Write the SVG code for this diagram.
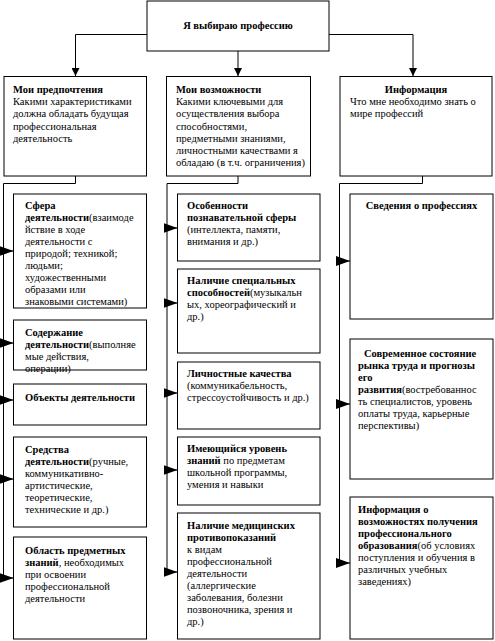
<svg xmlns="http://www.w3.org/2000/svg" width="495" height="641" viewBox="0 0 495 641">
<defs>
<style>
rect{fill:#fff;stroke:#000;stroke-width:1}
.c{fill:none;stroke:#000;stroke-width:1}
text{font-family:'Liberation Serif','Times New Roman',serif;font-size:10.5px;fill:#000}
.b{font-weight:bold}
.m{text-anchor:middle}
</style>
<marker id="ah" markerUnits="userSpaceOnUse" markerWidth="14" markerHeight="10" refX="14" refY="5" orient="auto" viewBox="0 0 14 10"><path d="M0,0 L14,5 L0,10 z" fill="#000"/></marker>
<marker id="ad" markerUnits="userSpaceOnUse" markerWidth="8" markerHeight="8" refX="8" refY="4" orient="auto" viewBox="0 0 8 8"><path d="M0,0 L8,4 L0,8 z" fill="#000"/></marker>
</defs>
<g id="connectors">
<path class="c" d="M147,34.5 H75.5 V76" marker-end="url(#ad)"/>
<path class="c" d="M238,51 V76" marker-end="url(#ad)"/>
<path class="c" d="M329,34.5 H413 V76" marker-end="url(#ad)"/>
<path class="c" d="M75.5,176 V183.5 H3.5 V578"/>
<path class="c" d="M238,176 V183.5 H167 V572"/>
<path class="c" d="M422.5,176 V183.5 H339.5 V563"/>
<path class="c" d="M3.5,251 H13.5" marker-end="url(#ah)"/>
<path class="c" d="M3.5,343 H13.5" marker-end="url(#ah)"/>
<path class="c" d="M3.5,400 H13.5" marker-end="url(#ah)"/>
<path class="c" d="M3.5,479 H13.5" marker-end="url(#ah)"/>
<path class="c" d="M3.5,578 H13.5" marker-end="url(#ah)"/>
<path class="c" d="M167,228 H177.5" marker-end="url(#ah)"/>
<path class="c" d="M167,303 H177.5" marker-end="url(#ah)"/>
<path class="c" d="M167,393 H177.5" marker-end="url(#ah)"/>
<path class="c" d="M167,470 H177.5" marker-end="url(#ah)"/>
<path class="c" d="M167,572 H177.5" marker-end="url(#ah)"/>
<path class="c" d="M339.5,261 H350" marker-end="url(#ah)"/>
<path class="c" d="M339.5,404 H350" marker-end="url(#ah)"/>
<path class="c" d="M339.5,563 H350" marker-end="url(#ah)"/>
</g>
<g id="root">
<rect x="147" y="1" width="182" height="50"/>
<text class="b m" x="238" y="28.5">Я выбираю профессию</text>
</g>
<g id="preferences">
<rect x="4" y="76.5" width="142.5" height="99.5"/>
<text x="13" y="93"><tspan class="b">Мои предпочтения</tspan><tspan x="13" dy="12.2">Какими характеристиками</tspan><tspan x="13" dy="12.2">должна обладать будущая</tspan><tspan x="13" dy="12.2">профессиональная</tspan><tspan x="13" dy="12.2">деятельность</tspan></text>
</g>
<g id="abilities">
<rect x="166.5" y="76.5" width="144" height="99.5"/>
<text x="176" y="93"><tspan class="b">Мои возможности</tspan><tspan x="176" dy="12.2">Какими ключевыми для</tspan><tspan x="176" dy="12.2">осуществления выбора</tspan><tspan x="176" dy="12.2">способностями,</tspan><tspan x="176" dy="12.2">предметными знаниями,</tspan><tspan x="176" dy="12.2">личностными качествами я</tspan><tspan x="176" dy="12.2">обладаю (в т.ч. ограничения)</tspan></text>
</g>
<g id="information">
<rect x="340" y="76.5" width="152" height="99.5"/>
<text class="b m" x="416" y="93">Информация</text>
<text x="350" y="105.2">Что мне необходимо знать о<tspan x="350" dy="12.2">мире профессий</tspan></text>
</g>
<g id="sphere">
<rect x="13.5" y="194" width="133" height="114"/>
<text x="25" y="208.5"><tspan class="b">Сфера</tspan><tspan x="25" dy="12.1" class="b">деятельности</tspan><tspan>(взаимоде</tspan><tspan x="25" dy="12.1">йствие в ходе</tspan><tspan x="25" dy="12.1">деятельности с</tspan><tspan x="25" dy="12.1">природой; техникой;</tspan><tspan x="25" dy="12.1">людьми;</tspan><tspan x="25" dy="12.1">художественными</tspan><tspan x="25" dy="12.1">образами или</tspan><tspan x="25" dy="12.1">знаковыми системами)</tspan></text>
</g>
<g id="content">
<rect x="13.5" y="320" width="133" height="50"/>
<text x="25" y="335.5"><tspan class="b">Содержание</tspan><tspan x="25" dy="12.1" class="b">деятельности</tspan><tspan>(выполняе</tspan><tspan x="25" dy="12.1">мые действия,</tspan><tspan x="25" dy="12.1">операции)</tspan></text>
</g>
<g id="objects">
<rect x="13.5" y="384" width="133" height="41"/>
<text class="b" x="25" y="400.5">Объекты деятельности</text>
</g>
<g id="means">
<rect x="13.5" y="437" width="133" height="90"/>
<text x="25" y="452.5"><tspan class="b">Средства</tspan><tspan x="25" dy="12.1" class="b">деятельности</tspan><tspan>(ручные,</tspan><tspan x="25" dy="12.1">коммуникативно-</tspan><tspan x="25" dy="12.1">артистические,</tspan><tspan x="25" dy="12.1">теоретические,</tspan><tspan x="25" dy="12.1">технические и др.)</tspan></text>
</g>
<g id="knowledge-area">
<rect x="13.5" y="537" width="133" height="102"/>
<text x="25" y="553.5"><tspan class="b">Область предметных</tspan><tspan x="25" dy="12.1" class="b">знаний</tspan><tspan>, необходимых</tspan><tspan x="25" dy="12.1">при освоении</tspan><tspan x="25" dy="12.1">профессиональной</tspan><tspan x="25" dy="12.1">деятельности</tspan></text>
</g>
<g id="cognitive">
<rect x="177.5" y="194" width="142.5" height="67"/>
<text x="187" y="208.5"><tspan class="b">Особенности</tspan><tspan x="187" dy="12.1" class="b">познавательной сферы</tspan><tspan x="187" dy="12.1">(интеллекта, памяти,</tspan><tspan x="187" dy="12.1">внимания и др.)</tspan></text>
</g>
<g id="special-abilities">
<rect x="177.5" y="269" width="142.5" height="84"/>
<text x="187" y="283.5"><tspan class="b">Наличие специальных</tspan><tspan x="187" dy="12.1" class="b">способностей</tspan><tspan>(музыкальн</tspan><tspan x="187" dy="12.1">ых, хореографический и</tspan><tspan x="187" dy="12.1">др.)</tspan></text>
</g>
<g id="personal">
<rect x="177.5" y="362" width="142.5" height="67"/>
<text x="187" y="376.5"><tspan class="b">Личностные качества</tspan><tspan x="187" dy="12.1">(коммуникабельность,</tspan><tspan x="187" dy="12.1">стрессоустойчивость и др.)</tspan></text>
</g>
<g id="knowledge-level">
<rect x="177.5" y="437" width="142.5" height="68"/>
<text x="187" y="451.5"><tspan class="b">Имеющийся уровень</tspan><tspan x="187" dy="12.1" class="b">знаний</tspan><tspan> по предметам</tspan><tspan x="187" dy="12.1">школьной программы,</tspan><tspan x="187" dy="12.1">умения и навыки</tspan></text>
</g>
<g id="medical">
<rect x="177.5" y="513" width="142.5" height="126"/>
<text x="187" y="528.5"><tspan class="b">Наличие медицинских</tspan><tspan x="187" dy="12.1" class="b">противопоказаний</tspan><tspan x="187" dy="12.1">к видам</tspan><tspan x="187" dy="12.1">профессиональной</tspan><tspan x="187" dy="12.1">деятельности</tspan><tspan x="187" dy="12.1">(аллергические</tspan><tspan x="187" dy="12.1">заболевания, болезни</tspan><tspan x="187" dy="12.1">позвоночника, зрения и</tspan><tspan x="187" dy="12.1">др.)</tspan></text>
</g>
<g id="professions-info">
<rect x="350" y="194" width="143" height="125"/>
<text class="b m" x="421.5" y="208.5">Сведения о профессиях</text>
</g>
<g id="labour-market">
<rect x="350" y="339" width="143" height="140"/>
<text x="358" y="356.5"><tspan class="b" x="364">Современное состояние</tspan><tspan x="358" dy="12.1" class="b">рынка труда и прогнозы</tspan><tspan x="358" dy="12.1" class="b">его</tspan><tspan x="358" dy="12.1" class="b">развития</tspan><tspan>(востребованнос</tspan><tspan x="358" dy="12.1">ть специалистов, уровень</tspan><tspan x="358" dy="12.1">оплаты труда, карьерные</tspan><tspan x="358" dy="12.1">перспективы)</tspan></text>
</g>
<g id="education">
<rect x="350" y="497" width="143" height="142"/>
<text x="358" y="512.5"><tspan class="b">Информация о</tspan><tspan x="358" dy="12.1" class="b">возможностях получения</tspan><tspan x="358" dy="12.1" class="b">профессионального</tspan><tspan x="358" dy="12.1" class="b">образования</tspan><tspan>(об условиях</tspan><tspan x="358" dy="12.1">поступления и обучения в</tspan><tspan x="358" dy="12.1">различных учебных</tspan><tspan x="358" dy="12.1">заведениях)</tspan></text>
</g>
</svg>
